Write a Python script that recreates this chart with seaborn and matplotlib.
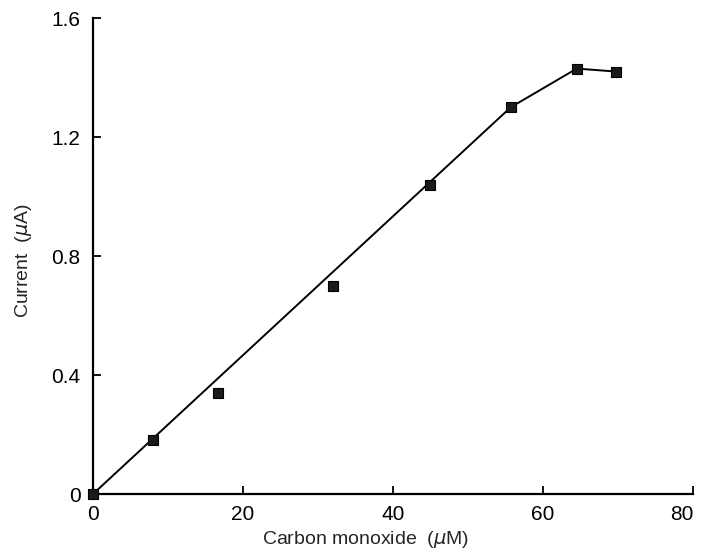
import numpy as np
import pandas as pd
import matplotlib
matplotlib.use('Agg')
import matplotlib.pyplot as plt
import seaborn as sns

# measured points (CO concentration in uM, current in uA)
co_conc = [0, 8.0, 16.7, 32.0, 44.9, 55.7, 64.5, 69.7]
current = [0, 0.18, 0.34, 0.70, 1.04, 1.30, 1.43, 1.42]

# drawn curve: straight calibration line then joining the last points
line_x = [0, 55.7, 64.5, 69.7]
line_y = [0, 1.30, 1.43, 1.42]

x_ticks = [0, 20, 40, 60, 80]
y_ticks = [0, 0.4, 0.8, 1.2, 1.6]
y_labels = ['0', '0.4', '0.8', '1.2', '1.6']

sns.set_style('ticks')
plt.rcParams['font.family'] = ['Liberation Sans', 'DejaVu Sans']

fig = plt.figure(figsize=(7.01, 5.54), dpi=100)
ax = fig.add_axes([0.1327, 0.1083, 0.8559, 0.8592])

pts = pd.DataFrame({'co': co_conc, 'i': current})
ln = pd.DataFrame({'co': line_x, 'i': line_y})

sns.lineplot(data=ln, x='co', y='i', ax=ax, color='black', linewidth=1.4,
             sort=False, clip_on=False)
sns.scatterplot(data=pts, x='co', y='i', ax=ax, marker='s', s=55,
                color='#1a1a1a', edgecolor='black', linewidth=0.8,
                zorder=3, clip_on=False)

ax.set_xlim(0, 80)
ax.set_ylim(0, 1.6)
ax.set_xticks(x_ticks)
ax.set_xticklabels([str(t) for t in x_ticks])
ax.set_yticks(y_ticks)
ax.set_yticklabels(y_labels)
ax.tick_params(direction='in', length=6, width=1.3, labelsize=15,
               colors='black')
ax.tick_params(axis='x', pad=8)
ax.tick_params(axis='y', pad=9)
ax.get_xticklabels()[-1].set_horizontalalignment('right')
sns.despine(ax=ax)
for s in ['left', 'bottom']:
    ax.spines[s].set_linewidth(1.6)
    ax.spines[s].set_color('black')

ax.set_xlabel('Carbon monoxide  ($\\mu$M)', fontsize=14)
ax.set_ylabel('Current  ($\\mu$A)', fontsize=14)
ax.xaxis.set_label_coords(0.455, -0.074)
ax.yaxis.set_label_coords(-0.099, 0.49)

fig.savefig('out.png', dpi=100)
